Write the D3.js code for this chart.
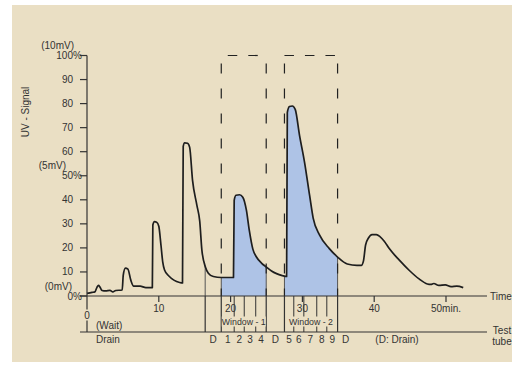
<!DOCTYPE html>
<html>
<head>
<meta charset="utf-8">
<script src="https://cdn.jsdelivr.net/npm/d3@7"></script>
<style>
  body { margin: 0; background: #fff; }
  svg text { font-family: "Liberation Sans", Arial, sans-serif; fill: #333; font-size: 10px; }
</style>
</head>
<body>
<div id="container"></div>
<script>
// Chromatogram trace (time in min, signal in % of 10mV)
let traceTime = [0, 0.7, 1.1, 1.4, 1.6, 1.8, 2.1, 2.6, 3.2, 3.6, 4.0, 4.9, 5.05, 5.35, 5.7, 6.1, 6.5, 7.4, 8.2, 9.1,
  9.17, 9.4, 9.7, 10.0, 10.3, 10.55, 10.8, 11.4, 12.1, 12.9, 13.3,
  13.4, 13.6, 14.0, 14.3, 14.7, 15.3, 15.7, 16.0, 16.5, 16.9, 17.6, 18.7, 20.4,
  20.5, 20.75, 21.25, 21.7, 22.2, 22.6, 23.1, 23.6, 24.3, 25.0, 25.7, 26.4, 27.2, 27.8,
  27.9, 28.2, 28.6, 29.0, 29.6, 30.3, 31.0, 31.5, 32.4, 33.75, 34.9, 36.25, 37.6, 38.2,
  38.5, 38.8, 39.2, 39.7, 40.3, 40.8, 41.4, 42.1, 43.5, 44.9, 46.25, 47.4, 47.9, 48.3, 49.0, 49.9, 50.7, 51.5, 52.4];
let traceSignal = [1.1, 1.5, 1.7, 3.7, 4.4, 3.7, 2.3, 2.1, 2.3, 1.7, 2.3, 2.5, 8.7, 11.6, 11.2, 6.6, 4.1, 4.1, 3.5, 3.5,
  29.5, 30.9, 30.7, 29, 21.2, 14.1, 10.8, 8.3, 6.6, 5.6, 5.4,
  62.2, 63.7, 63.5, 61.8, 48.1, 37.8, 31.1, 19.1, 12.0, 9.5, 8.1, 7.7, 7.7,
  39.8, 41.9, 42.1, 41.1, 35.7, 27.4, 19.5, 16.2, 13.7, 12.0, 10.4, 9.3, 8.5, 8.1,
  76.3, 78.8, 79, 77.6, 66.8, 55.6, 41.9, 32.4, 25.3, 19.7, 16.2, 13.3, 12.7, 12.7,
  14.5, 21.2, 24.1, 25.5, 25.5, 24.7, 22.8, 19.7, 14.9, 10.6, 7.1, 5.0, 4.8, 5.2, 4.4, 4.6, 3.9, 4.1, 3.5];

// Axis ticks
let yTicks = [0, 10, 20, 30, 40, 50, 60, 70, 80, 90, 100];
let yPercentTicks = [0, 50, 100];
let mvNotes = [[100, "(10mV)"], [50, "(5mV)"], [0, "(0mV)"]];
let xTicks = [10, 20, 30, 40, 50];
let xTickLabels = ["10", "20", "30", "40", "50min."];

// Test tube cut times (min) and tube names between them
let tubeCuts = [16.46, 18.7, 20.5, 21.9, 23.5, 24.96, 27.5, 28.8, 30.2, 32.0, 33.4, 34.9];
let tubeNames = ["D", "1", "2", "3", "4", "D", "5", "6", "7", "8", "9"];
let drainCuts = [16.46, 18.7, 24.96, 27.5, 34.9]; // cuts drawn up to the trace
let windowStart = [18.7, 27.5];
let windowEnd = [24.96, 34.9];
let windowNames = ["Window - 1", "Window - 2"];

let w = 524, h = 373;
let tubeY = 332;
let bg = "#eadfc4";

let x = d3.scaleLinear().domain([0, 50]).range([87, 446]);
let y = d3.scaleLinear().domain([0, 100]).range([296, 55.5]);

let svg = d3.select("#container").append("svg")
  .attr("width", w).attr("height", h);

// beige panel
svg.append("rect").attr("x", 12).attr("y", 5).attr("width", 500).attr("height", 357)
  .attr("fill", bg);

let pts = traceTime.map((t, i) => [t, traceSignal[i]]);

let line = d3.line().x(d => x(d[0])).y(d => y(d[1])).curve(d3.curveMonotoneX);
let area = d3.area().x(d => x(d[0])).y0(y(0)).y1(d => y(d[1])).curve(d3.curveMonotoneX);

let defs = svg.append("defs");
defs.append("clipPath").attr("id", "under").append("path").attr("d", area(pts));
let winClip = defs.append("clipPath").attr("id", "wins");
windowStart.forEach((s, i) => {
  winClip.append("rect").attr("x", x(s)).attr("y", 0)
    .attr("width", x(windowEnd[i]) - x(s)).attr("height", y(0));
});

// blue fractions
svg.append("path").attr("d", area(pts)).attr("fill", "#aec3e6").attr("clip-path", "url(#wins)");

// cut lines from trace down to time axis
svg.append("g").attr("clip-path", "url(#under)").selectAll("line")
  .data(drainCuts).enter().append("line")
  .attr("x1", d => x(d)).attr("x2", d => x(d))
  .attr("y1", y(100)).attr("y2", y(0))
  .attr("stroke", "#555").attr("stroke-width", 1);

// dashed windows
windowStart.forEach((s, i) => {
  let g = svg.append("g").attr("stroke", "#222").attr("stroke-width", 1.2).attr("fill", "none");
  [s, windowEnd[i]].forEach(t => {
    g.append("line").attr("x1", x(t)).attr("x2", x(t)).attr("y1", y(100)).attr("y2", y(0))
      .attr("stroke-dasharray", "10,15").attr("stroke-dashoffset", 17);
  });
  g.append("line").attr("x1", x(s)).attr("x2", x(windowEnd[i])).attr("y1", y(100)).attr("y2", y(100))
    .attr("stroke-dasharray", "9.5,11").attr("stroke-dashoffset", i == 0 ? 14 : 0);
});

// trace
svg.append("path").attr("d", line(pts)).attr("fill", "none")
  .attr("stroke", "#1e1e1e").attr("stroke-width", 1.7).attr("stroke-linejoin", "round");

// y axis
let ax = svg.append("g").attr("stroke", "#333").attr("stroke-width", 1.2);
ax.append("line").attr("x1", 87).attr("x2", 87).attr("y1", y(100)).attr("y2", tubeY);
ax.selectAll(".yt").data(yTicks).enter().append("line")
  .attr("x1", 80).attr("x2", 87).attr("y1", d => y(d)).attr("y2", d => y(d));
svg.selectAll(".ylab").data(yTicks).enter().append("text")
  .attr("x", 73).attr("y", d => y(d)).attr("dy", "0.35em").attr("text-anchor", "end")
  .text(d => d);
svg.selectAll(".ypct").data(yPercentTicks).enter().append("text")
  .attr("x", 73).attr("y", d => y(d)).attr("dy", "0.35em").text("%");
svg.selectAll(".mv").data(mvNotes).enter().append("text")
  .attr("x", d => d[0] == 0 ? 72 : (d[0] == 50 ? 66 : 74))
  .attr("y", d => y(d[0]) - 10).attr("dy", "0.35em").attr("text-anchor", "end")
  .text(d => d[1]);
svg.append("text").attr("transform", "translate(29,112) rotate(-90)")
  .attr("text-anchor", "middle").text("UV - Signal");

// time axis
ax.append("line").attr("x1", 80).attr("x2", 487).attr("y1", y(0)).attr("y2", y(0));
ax.selectAll(".xt").data(xTicks).enter().append("line")
  .attr("x1", d => x(d)).attr("x2", d => x(d)).attr("y1", y(0)).attr("y2", y(0) + 6);
svg.selectAll(".xlab").data(xTicks).enter().append("text")
  .attr("x", d => x(d)).attr("y", 308).attr("dy", "0.35em").attr("text-anchor", "middle")
  .text((d, i) => xTickLabels[i]);
// zero label sits on the axis line
svg.append("rect").attr("x", x(0) - 3.5).attr("y", 309.5).attr("width", 7).attr("height", 11).attr("fill", bg);
svg.append("text").attr("x", x(0)).attr("y", 315).attr("dy", "0.35em")
  .attr("text-anchor", "middle").text("0");
svg.append("text").attr("x", 490).attr("y", y(0)).attr("dy", "0.35em").text("Time");

// test tube axis
ax.append("line").attr("x1", 80).attr("x2", 487).attr("y1", tubeY).attr("y2", tubeY);
ax.selectAll(".cut").data(tubeCuts).enter().append("line")
  .attr("x1", d => x(d)).attr("x2", d => x(d)).attr("y1", y(0)).attr("y2", tubeY)
  .attr("stroke-width", d => drainCuts.includes(d) ? 1.2 : 1);

// window names over the tube dividers
windowStart.forEach((s, i) => {
  let cx = (x(s) + x(windowEnd[i])) / 2;
  svg.append("rect").attr("x", cx - 22).attr("y", 316.5).attr("width", 44).attr("height", 10)
    .attr("fill", bg);
  svg.append("text").attr("x", cx).attr("y", 321.5).attr("dy", "0.35em")
    .attr("text-anchor", "middle").style("font-size", "8.8px").text(windowNames[i]);
});

svg.selectAll(".tube").data(tubeNames).enter().append("text")
  .attr("x", (d, i) => (x(tubeCuts[i]) + x(tubeCuts[i + 1])) / 2)
  .attr("y", 339).attr("dy", "0.35em").attr("text-anchor", "middle").text(d => d);
svg.append("text").attr("x", x(34.9) + 8).attr("y", 339).attr("dy", "0.35em")
  .attr("text-anchor", "middle").text("D");
svg.append("text").attr("x", 397).attr("y", 339).attr("dy", "0.35em")
  .attr("text-anchor", "middle").text("(D: Drain)");
svg.append("text").attr("x", 96).attr("y", 325.5).attr("dy", "0.35em").text("(Wait)");
svg.append("text").attr("x", 96).attr("y", 339).attr("dy", "0.35em").text("Drain");
svg.append("text").attr("x", 502).attr("y", 330).attr("dy", "0.35em").attr("text-anchor", "middle").text("Test");
svg.append("text").attr("x", 502).attr("y", 341).attr("dy", "0.35em").attr("text-anchor", "middle").text("tube");
</script>
</body>
</html>
